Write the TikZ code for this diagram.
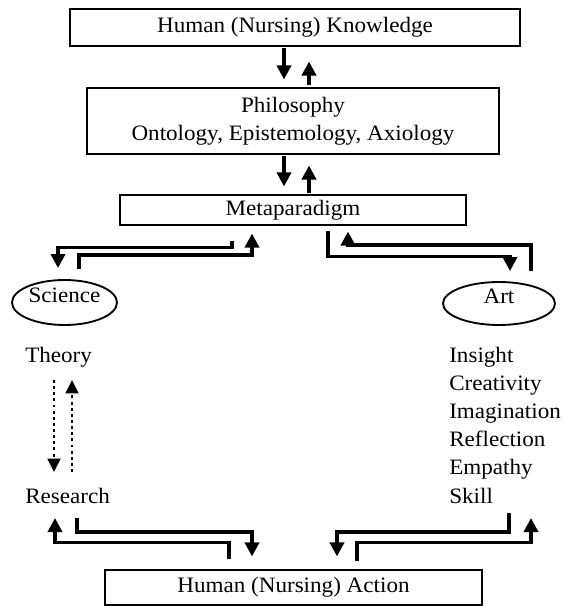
\documentclass[tikz,border=0pt]{standalone}
\usepackage{fontspec}
\setmainfont{Liberation Serif}[FakeStretch=1.05]
\usetikzlibrary{calc,shapes.geometric}
\usetikzlibrary{arrows.meta}
\tikzstyle{box}=[draw,line width=0.8pt,align=center,inner sep=0pt]
\tikzstyle{oval}=[draw,ellipse,line width=1.4pt,inner sep=0pt]
\tikzstyle{word}=[inner sep=0pt]
\tikzstyle{flow}=[line width=2.6pt,-{Triangle[width=10.5pt,length=10.5pt]}]
\tikzstyle{dotflow}=[line width=2pt,dash pattern=on 2.2pt off 2.4pt,-{Triangle[width=9.5pt,length=10pt]}]

\begin{document}
\begin{tikzpicture}[x=0.75pt,y=-0.75pt,font=\fontsize{16.5}{21}\selectfont]
  \useasboundingbox (0,0) rectangle (564,606);

  \node[box,minimum width=337.5pt,minimum height=27.75pt] (know) at (295,27.5) {Human (Nursing) Knowledge};
  \node[box,minimum width=309pt,minimum height=49.5pt] (phil) at (293,121) {Philosophy\\Ontology, Epistemology, Axiology};
  \node[box,minimum width=259.5pt,minimum height=22.5pt] (meta) at (293,210) {Metaparadigm};
  \node[box,minimum width=282.75pt,minimum height=26.25pt] (act) at (293.5,587.5) {Human (Nursing) Action};

  \node[oval,minimum width=78.75pt,minimum height=33.75pt] (sci) at (64.5,302.5) {};
  \node[word,anchor=base] (scitxt) at (sci.center) {Science};
  \node[oval,minimum width=84pt,minimum height=32.25pt] (art) at (499,303.5) {};
  \node[word,anchor=base] (arttxt) at (art.center) {Art};

  \node[word,anchor=base west] (theory) at (25,362) {Theory};
  \node[word,anchor=base west] (research) at (25,503) {Research};
  \foreach \w [count=\i] in {Insight,Creativity,Imagination,Reflection,Empathy,Skill}
    \node[word,anchor=base west] (q\i) at (449,{362+28.2*(\i-1)}) {\w};

  % knowledge <-> philosophy <-> metaparadigm
  \draw[flow] ($(know.south)+(-11,1)$) -- ($(phil.north)+(-9,-8)$);
  \draw[flow] ($(phil.north)+(16,-2)$) -- ($(know.south)+(14,15)$);
  \draw[flow] ($(phil.south)+(-9,1)$) -- ($(meta.north)+(-9,-8)$);
  \draw[flow] ($(meta.north)+(16,-1)$) -- ($(phil.south)+(16,11)$);

  % metaparadigm <-> science, art
  \draw[flow] ($(meta.south)+(-61,15)$) -- ++(0,7) -| ($(sci.north)+(-6.5,-11)$);
  \draw[flow] ($(sci.north)+(14.5,-10)$) -- ++(0,-14) -| ($(meta.south)+(-41,8)$);
  \draw[flow] ($(meta.south)+(35,5)$) -- ++(0,26) -| ($(art.north)+(11,-10)$);
  \draw[flow] ($(art.north)+(32,-10)$) -- ++(0,-26) -| ($(meta.south)+(55,6)$);

  % theory <-> research
  \draw[dotflow] ($(theory.base west)+(29,18)$) -- ($(research.base west)+(29,-31)$);
  \draw[dotflow] ($(research.base west)+(47,-31)$) -- ($(theory.base west)+(47,18)$);

  % research, skill <-> action
  \draw[flow] ($(act.north)+(-64.5,-10)$) -- ++(0,-17) -| ($(research.base west)+(30,15)$);
  \draw[flow] ($(research.base west)+(52,15)$) -- ++(0,14) -| ($(act.north)+(-41.5,-13)$);
  \draw[flow] ($(q6.base west)+(60,10)$) -- ++(0,19) -| ($(act.north)+(43.5,-13)$);
  \draw[flow] ($(act.north)+(63.5,-8)$) -- ++(0,-19) -| ($(q6.base west)+(82,15)$);
\end{tikzpicture}
\end{document}
